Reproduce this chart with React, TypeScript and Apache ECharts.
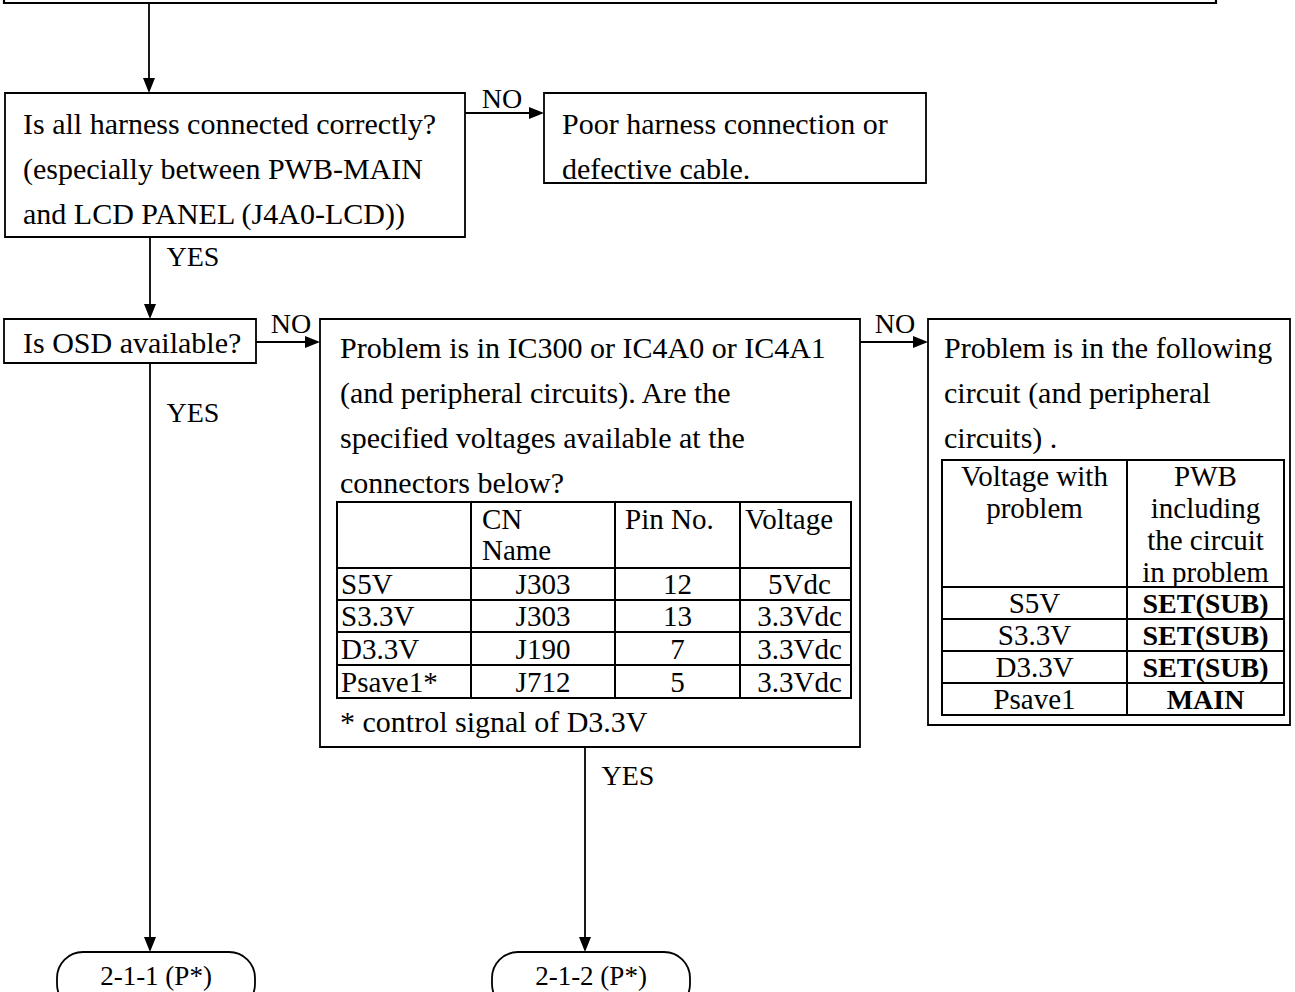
import React, { useEffect, useRef } from "react";
import * as echarts from "echarts";

const FONT_FAMILY = '"Liberation Serif", "DejaVu Serif", serif';
const FS = 30;
const FS_TABLE = 29;

const topConnectorX = 149;
const q1Lines = ["Is all harness connected correctly?", "(especially between PWB-MAIN", "and LCD PANEL (J4A0-LCD))"];
const r1Lines = ["Poor harness connection or", "defective cable."];
const q2Lines = ["Is OSD available?"];
const q3Lines = [
  "Problem is in IC300 or IC4A0 or IC4A1",
  "(and peripheral circuits). Are the",
  "specified voltages available at the",
  "connectors below?",
];
const r3Lines = ["Problem is in the following", "circuit (and peripheral", "circuits) ."];

const t1Header = [[""], ["CN", "Name"], ["Pin No."], ["Voltage"]];
const t1Signals = ["S5V", "S3.3V", "D3.3V", "Psave1*"];
const t1Connectors = ["J303", "J303", "J190", "J712"];
const t1Pins = ["12", "13", "7", "5"];
const t1Voltages = ["5Vdc", "3.3Vdc", "3.3Vdc", "3.3Vdc"];
const footnote = "* control signal of D3.3V";

const t2Header = [["Voltage with", "problem"], ["PWB", "including", "the circuit", "in problem"]];
const t2Signals = ["S5V", "S3.3V", "D3.3V", "Psave1"];
const t2Boards = ["SET(SUB)", "SET(SUB)", "SET(SUB)", "MAIN"];

const terminals = ["2-1-1 (P*)", "2-1-2 (P*)"];
const yesLabel = "YES";
const noLabel = "NO";

function font(size = FS, weight = "normal") {
  return `${weight} ${size}px ${FONT_FAMILY}`;
}

function txt(text: string, x: number, y: number, align = "left", weight = "normal", size = FS): any {
  return {
    type: "text",
    x,
    y,
    silent: true,
    style: {
      text,
      font: font(size, weight),
      fill: "#000",
      align,
      verticalAlign: "middle",
      textAlign: align,
      textVerticalAlign: "middle",
    },
  };
}

function box(x1: number, y1: number, x2: number, y2: number, lw = 1.8, r = 0): any {
  return {
    type: "rect",
    shape: { x: x1, y: y1, width: x2 - x1, height: y2 - y1, r },
    style: { fill: "#fff", stroke: "#000", lineWidth: lw },
  };
}

function seg(x1: number, y1: number, x2: number, y2: number, lw = 1.8): any {
  return {
    type: "line",
    shape: { x1, y1, x2, y2 },
    style: { stroke: "#000", lineWidth: lw },
  };
}

function arrowDown(x: number, y1: number, y2: number): any[] {
  return [
    seg(x, y1, x, y2 - 12),
    {
      type: "polygon",
      shape: { points: [[x, y2], [x - 6, y2 - 15], [x + 6, y2 - 15]] },
      style: { fill: "#000" },
    },
  ];
}

function arrowRight(y: number, x1: number, x2: number): any[] {
  return [
    seg(x1, y, x2 - 12, y),
    {
      type: "polygon",
      shape: { points: [[x2, y], [x2 - 15, y - 6], [x2 - 15, y + 6]] },
      style: { fill: "#000" },
    },
  ];
}

function buildGraphics(): any[] {
  const els: any[] = [];

  // top (cut-off) box
  els.push(box(4, -60, 1216, 3, 2.2));
  els.push(...arrowDown(topConnectorX, 3, 93));

  // Box 1: harness question
  els.push(box(5, 93, 465, 237));
  q1Lines.forEach((l, i) => els.push(txt(l, 23, 123 + i * 45)));
  els.push(...arrowRight(113, 465, 544));
  els.push(txt(noLabel, 502, 98, "center", "normal", 28));

  // Box 2: poor harness
  els.push(box(544, 93, 926, 183));
  r1Lines.forEach((l, i) => els.push(txt(l, 562, 123 + i * 45)));

  // YES down to box 3
  els.push(txt(yesLabel, 193, 256, "center", "normal", 28));
  els.push(...arrowDown(150, 237, 319));

  // Box 3: OSD
  els.push(box(4, 319, 256, 363));
  q2Lines.forEach((l) => els.push(txt(l, 23, 342)));
  els.push(...arrowRight(342, 256, 320));
  els.push(txt(noLabel, 291, 323, "center", "normal", 28));

  // Box 4: problem IC300
  els.push(box(320, 319, 860, 747));
  q3Lines.forEach((l, i) => els.push(txt(l, 340, 347 + i * 45)));

  // table 1
  const c1 = [337, 471, 615, 740, 851];
  const r1 = [502, 568, 600, 632, 665, 698];
  els.push(box(c1[0], r1[0], c1[4], r1[5], 2));
  for (let i = 1; i < 4; i++) els.push(seg(c1[i], r1[0], c1[i], r1[5], 2));
  for (let j = 1; j < 5; j++) els.push(seg(c1[0], r1[j], c1[4], r1[j], 2));
  const hLeft = [c1[0] + 4, c1[1] + 11, c1[2] + 10, c1[3] + 5];
  t1Header.forEach((lines, ci) => {
    lines.forEach((l, li) => els.push(txt(l, hLeft[ci], 519 + li * 31, "left", "normal", FS_TABLE)));
  });
  const colsData = [t1Signals, t1Connectors, t1Pins, t1Voltages];
  colsData.forEach((col, ci) => {
    col.forEach((v, ri) => {
      const cy = (r1[ri + 1] + r1[ri + 2]) / 2;
      if (ci === 0) els.push(txt(v, c1[0] + 4, cy, "left", "normal", FS_TABLE));
      else els.push(txt(v, (c1[ci] + c1[ci + 1]) / 2 + (ci === 3 ? 4 : 0), cy, "center", "normal", FS_TABLE));
    });
  });
  els.push(txt(footnote, 340, 721));

  els.push(...arrowRight(342, 860, 928));
  els.push(txt(noLabel, 895, 323, "center", "normal", 28));

  // Box 5
  els.push(box(928, 319, 1290, 725));
  r3Lines.forEach((l, i) => els.push(txt(l, 944, 347 + i * 45)));

  // table 2
  const c2 = [942, 1127, 1284];
  const r2 = [460, 587, 619, 651, 683, 715];
  els.push(box(c2[0], r2[0], c2[2], r2[5], 2));
  els.push(seg(c2[1], r2[0], c2[1], r2[5], 2));
  for (let j = 1; j < 5; j++) els.push(seg(c2[0], r2[j], c2[2], r2[j], 2));
  t2Header.forEach((lines, ci) => {
    const cx = (c2[ci] + c2[ci + 1]) / 2;
    lines.forEach((l, li) => els.push(txt(l, cx, 476 + li * 32, "center", "normal", FS_TABLE)));
  });
  t2Signals.forEach((v, ri) => {
    const cy = (r2[ri + 1] + r2[ri + 2]) / 2;
    els.push(txt(v, (c2[0] + c2[1]) / 2, cy, "center", "normal", FS_TABLE));
    els.push(txt(t2Boards[ri], (c2[1] + c2[2]) / 2, cy, "center", "bold", 28));
  });

  // YES down from box 4
  els.push(txt(yesLabel, 628, 775, "center", "normal", 28));
  els.push(...arrowDown(585, 747, 952));

  // YES down from box 3
  els.push(txt(yesLabel, 193, 412, "center", "normal", 28));
  els.push(...arrowDown(150, 363, 952));

  // terminals
  const termX = [57, 492];
  terminals.forEach((t, i) => {
    els.push(box(termX[i], 952, termX[i] + 198, 1010, 1.8, 26));
    els.push(txt(t, termX[i] + 99, 976, "center", "normal", 27));
  });

  return els;
}

export default function App() {
  const ref = useRef<HTMLDivElement>(null);
  useEffect(() => {
    document.body.style.margin = "0";
    document.body.style.background = "#fff";
    if (!ref.current) return;
    const chart = echarts.init(ref.current, undefined, { renderer: "svg" });
    chart.setOption({
      animation: false,
      backgroundColor: "#fff",
      graphic: { elements: buildGraphics() },
    });
    return () => chart.dispose();
  }, []);
  return <div ref={ref} style={{ width: 1295, height: 992 }} />;
}
